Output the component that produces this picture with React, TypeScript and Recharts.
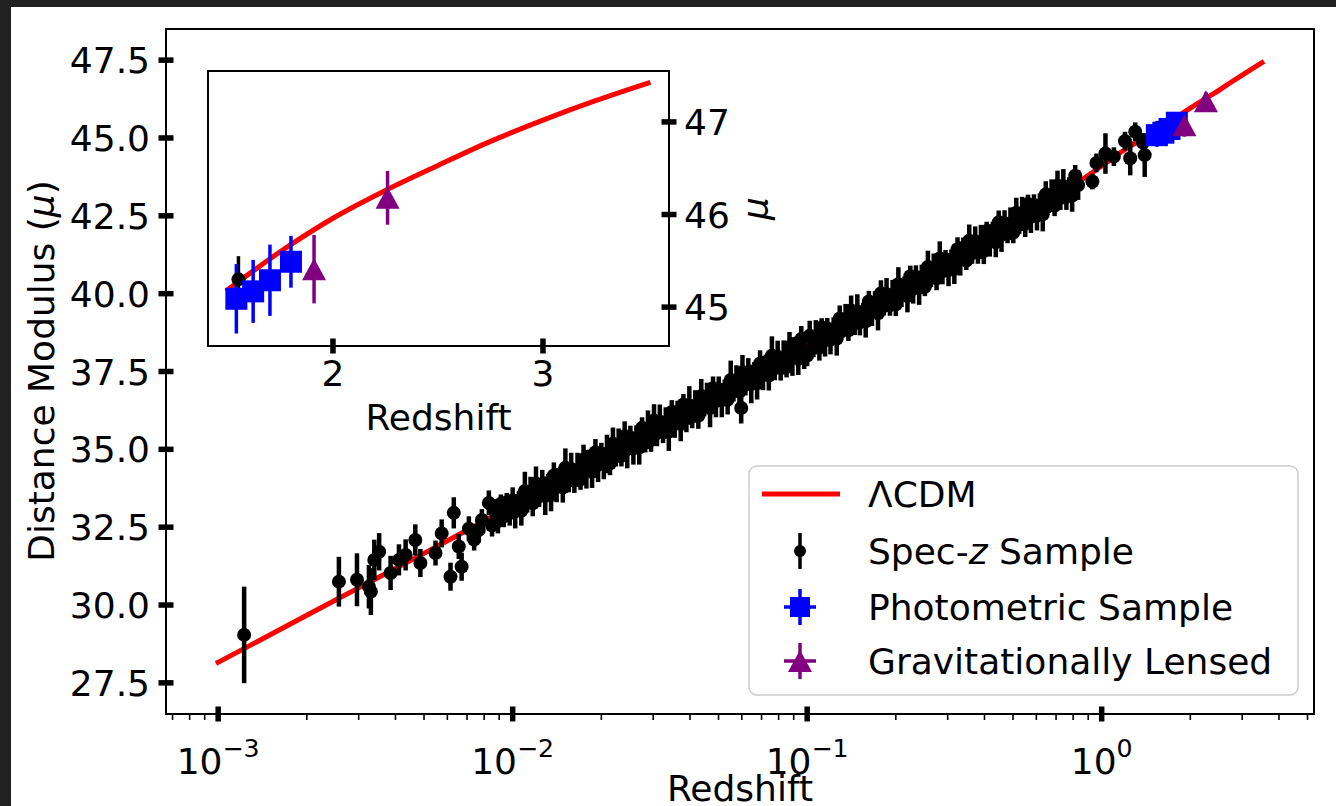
import React from 'react';
import { ComposedChart, Line, Scatter, XAxis, YAxis, ErrorBar, ReferenceArea, Label } from 'recharts';

const FONT = '"DejaVu Sans", sans-serif';
const FS = 36;

// ΛCDM model curve (redshift, distance modulus)
const curveZ = [0.001, 0.002, 0.003, 0.005, 0.007, 0.01, 0.02, 0.03, 0.05, 0.07, 0.1, 0.15, 0.2, 0.3, 0.4, 0.5, 0.6, 0.7, 0.8, 1.0, 1.2, 1.5, 1.75, 2.0, 2.25, 2.5, 2.75, 3.0, 3.25, 3.5];
const curveMu = [28.16, 29.67, 30.55, 31.66, 32.4, 33.18, 34.69, 35.59, 36.73, 37.5, 38.31, 39.25, 39.96, 40.95, 41.69, 42.26, 42.73, 43.13, 43.47, 44.1, 44.63, 45.19, 45.6, 45.96, 46.26, 46.53, 46.79, 47.02, 47.23, 47.42];

// Spec-z sample: [z, mu, err]
const specSample: number[][] = [
  [0.001225, 29.04, 1.55], [0.00257, 30.75, 0.8], [0.00296, 30.81, 0.85], [0.00325, 30.59, 0.7], [0.0033, 30.43, 0.75],
  [0.00339, 31.45, 0.65], [0.00352, 31.71, 0.6], [0.00385, 31.03, 0.55], [0.00411, 31.45, 0.5], [0.00433, 31.61, 0.5],
  [0.00467, 32.09, 0.5], [0.00486, 31.35, 0.45], [0.00547, 31.67, 0.4], [0.00574, 32.3, 0.45], [0.00615, 30.91, 0.45],
  [0.00631, 32.96, 0.5], [0.00656, 31.88, 0.4], [0.00671, 31.23, 0.45], [0.0071, 32.45, 0.4], [0.0074, 32.1, 0.35],
  [0.00767, 32.41, 0.4], [0.00786, 32.73, 0.35], [0.0083, 33.28, 0.4], [0.00851, 32.55, 0.35], [0.00871, 33.1, 0.3],
  [0.00891, 32.7, 0.4], [0.00912, 33.25, 0.3], [0.00933, 32.85, 0.35], [0.00955, 33.3, 0.3], [0.00977, 32.95, 0.4],
  [0.01, 33.36, 0.42], [0.0102, 33.01, 0.55], [0.0105, 33.33, 0.34], [0.0107, 33.03, 0.48], [0.011, 33.66, 0.62],
  [0.0112, 33.35, 0.38], [0.0115, 33.6, 0.52], [0.0117, 33.27, 0.42], [0.012, 33.9, 0.55], [0.0123, 33.49, 0.34],
  [0.0126, 33.86, 0.48], [0.0129, 33.51, 0.62], [0.0132, 33.83, 0.38], [0.0135, 33.53, 0.52], [0.0138, 34.16, 0.42],
  [0.0141, 33.85, 0.55], [0.0145, 34.1, 0.34], [0.0148, 33.77, 0.48], [0.0151, 34.41, 0.62], [0.0155, 34.0, 0.38],
  [0.0158, 34.37, 0.52], [0.0162, 34.02, 0.42], [0.0166, 34.34, 0.55], [0.017, 34.04, 0.34], [0.0174, 34.67, 0.48],
  [0.0178, 34.36, 0.62], [0.0182, 34.61, 0.38], [0.0186, 34.28, 0.52], [0.0191, 34.91, 0.42], [0.0195, 34.5, 0.55],
  [0.02, 34.87, 0.34], [0.0204, 34.52, 0.48], [0.0209, 34.85, 0.62], [0.0214, 34.55, 0.38], [0.0219, 35.18, 0.52],
  [0.0224, 34.87, 0.42], [0.0229, 35.12, 0.55], [0.0234, 34.79, 0.34], [0.024, 35.42, 0.48], [0.0245, 35.01, 0.62],
  [0.0251, 35.38, 0.38], [0.0257, 35.03, 0.52], [0.0263, 35.35, 0.42], [0.0269, 35.06, 0.55], [0.0275, 35.69, 0.34],
  [0.0282, 35.38, 0.48], [0.0288, 35.63, 0.62], [0.0295, 35.3, 0.38], [0.0302, 35.93, 0.52], [0.0309, 35.52, 0.42],
  [0.0316, 35.89, 0.55], [0.0324, 35.54, 0.34], [0.0331, 35.87, 0.48], [0.0339, 35.57, 0.62], [0.0347, 36.2, 0.38],
  [0.0355, 35.89, 0.52], [0.0363, 36.14, 0.42], [0.0372, 35.81, 0.55], [0.038, 36.44, 0.34], [0.0389, 36.03, 0.48],
  [0.0398, 36.41, 0.62], [0.0407, 36.06, 0.38], [0.0417, 36.38, 0.52], [0.0427, 36.08, 0.42], [0.0437, 36.71, 0.55],
  [0.0447, 36.4, 0.34], [0.0457, 36.66, 0.48], [0.0468, 36.33, 0.62], [0.0479, 36.96, 0.38], [0.049, 36.55, 0.52],
  [0.0501, 36.92, 0.42], [0.0513, 36.58, 0.55], [0.0525, 36.9, 0.34], [0.0537, 36.6, 0.48], [0.055, 37.23, 0.62],
  [0.0562, 36.92, 0.38], [0.0575, 37.18, 0.52], [0.0589, 36.85, 0.42], [0.0597, 36.33, 0.5], [0.0603, 37.48, 0.55],
  [0.0617, 37.07, 0.34], [0.0631, 37.45, 0.48], [0.0646, 37.1, 0.62], [0.0661, 37.42, 0.38], [0.0676, 37.12, 0.52],
  [0.0692, 37.76, 0.42], [0.0708, 37.45, 0.55], [0.0724, 37.7, 0.34], [0.0741, 37.37, 0.48], [0.0759, 38.01, 0.62],
  [0.0776, 37.6, 0.38], [0.0794, 37.97, 0.52], [0.0813, 37.63, 0.42], [0.0832, 37.95, 0.55], [0.0851, 37.65, 0.34],
  [0.0871, 38.29, 0.48], [0.0891, 37.98, 0.62], [0.0912, 38.23, 0.38], [0.0933, 37.91, 0.52], [0.0955, 38.54, 0.42],
  [0.0977, 38.13, 0.55],
  [0.1, 38.01, 0.34], [0.102, 38.65, 0.48], [0.105, 38.34, 0.38], [0.107, 38.6, 0.55], [0.11, 38.27, 0.42],
  [0.112, 38.91, 0.3], [0.115, 38.5, 0.52], [0.117, 38.88, 0.34], [0.12, 38.53, 0.48], [0.123, 38.86, 0.38],
  [0.126, 38.56, 0.55], [0.129, 39.2, 0.42], [0.132, 38.89, 0.3], [0.135, 39.15, 0.52], [0.138, 38.82, 0.34],
  [0.141, 39.46, 0.48], [0.145, 39.05, 0.38], [0.148, 39.43, 0.55], [0.151, 39.08, 0.42], [0.155, 39.41, 0.3],
  [0.158, 39.11, 0.52], [0.162, 39.75, 0.34], [0.166, 39.44, 0.48], [0.17, 39.7, 0.38], [0.174, 39.37, 0.55],
  [0.178, 40.01, 0.42], [0.182, 39.6, 0.3], [0.186, 39.98, 0.52], [0.191, 39.63, 0.34], [0.195, 39.96, 0.48],
  [0.2, 39.66, 0.38], [0.204, 40.3, 0.55], [0.209, 39.99, 0.42], [0.214, 40.25, 0.3], [0.219, 39.92, 0.52],
  [0.224, 40.56, 0.34], [0.229, 40.16, 0.48], [0.234, 40.53, 0.38], [0.24, 40.19, 0.55], [0.245, 40.51, 0.42],
  [0.251, 40.22, 0.3], [0.257, 40.86, 0.52], [0.263, 40.55, 0.34], [0.269, 40.81, 0.48], [0.275, 40.49, 0.38],
  [0.282, 41.13, 0.55], [0.288, 40.72, 0.42], [0.295, 41.1, 0.3], [0.302, 40.76, 0.52], [0.309, 41.08, 0.34],
  [0.316, 40.79, 0.48], [0.324, 41.43, 0.38], [0.331, 41.13, 0.55], [0.339, 41.38, 0.42], [0.347, 41.06, 0.3],
  [0.355, 41.7, 0.52], [0.363, 41.3, 0.34], [0.372, 41.68, 0.48], [0.38, 41.34, 0.38], [0.389, 41.66, 0.55],
  [0.398, 41.37, 0.42], [0.407, 42.01, 0.3], [0.417, 41.71, 0.52], [0.427, 41.97, 0.34], [0.437, 41.65, 0.48],
  [0.447, 42.29, 0.38], [0.457, 41.89, 0.55], [0.468, 42.26, 0.42], [0.479, 41.92, 0.3], [0.49, 42.25, 0.52],
  [0.501, 41.96, 0.34], [0.513, 42.6, 0.48], [0.525, 42.3, 0.38], [0.537, 42.56, 0.55], [0.55, 42.24, 0.42],
  [0.562, 42.88, 0.3], [0.575, 42.47, 0.52], [0.589, 42.85, 0.34], [0.603, 42.51, 0.48], [0.617, 42.84, 0.38],
  [0.631, 42.55, 0.55], [0.646, 43.19, 0.42], [0.661, 42.89, 0.3], [0.676, 43.15, 0.52], [0.692, 42.83, 0.34],
  [0.708, 43.47, 0.48], [0.724, 43.07, 0.38], [0.741, 43.45, 0.55], [0.759, 43.11, 0.42], [0.776, 43.44, 0.3],
  [0.794, 43.15, 0.52], [0.813, 43.79, 0.34], [0.832, 43.49, 0.48],
  [0.93, 43.6, 0.25], [0.96, 44.2, 0.3], [1.03, 44.5, 0.65], [1.1, 44.4, 0.3], [1.2, 44.9, 0.3],
  [1.25, 44.35, 0.55], [1.3, 45.2, 0.3], [1.38, 44.85, 0.3], [1.4, 44.45, 0.7], [1.55, 45.3, 0.25],
];

// Photometric sample
const photoZ = [1.54, 1.62, 1.7, 1.8];
const photoMu = [45.09, 45.17, 45.29, 45.49];
const photoErr = [0.375, 0.34, 0.385, 0.28];

// Gravitationally lensed
const lensZ = [1.91, 2.26];
const lensMu = [45.41, 46.18];
const lensErr = [0.37, 0.29];

// Axes ticks
const mainXMajor = [0.001, 0.01, 0.1, 1];
const mainXMinor = [0.0007, 0.0008, 0.0009, 0.002, 0.003, 0.004, 0.005, 0.006, 0.007, 0.008, 0.009, 0.02, 0.03, 0.04, 0.05, 0.06, 0.07, 0.08, 0.09, 0.2, 0.3, 0.4, 0.5, 0.6, 0.7, 0.8, 0.9, 2, 3, 4, 5];
const mainYTicks = [27.5, 30, 32.5, 35, 37.5, 40, 42.5, 45, 47.5];
const insetXTicks = [2, 3];
const insetYTicks = [45, 46, 47];

const MAIN_X_DOMAIN: [number, number] = [0.000665, 5.26];
const MAIN_Y_DOMAIN: [number, number] = [26.5, 48.5];
const INSET_X_DOMAIN: [number, number] = [1.405, 3.6];
const INSET_Y_DOMAIN: [number, number] = [44.58, 47.55];

const curveData = curveZ.map((z, i) => ({ z, mu: curveMu[i] }));
const specData = specSample.map(([z, mu, err]) => ({ z, mu, err }));
const photoData = photoZ.map((z, i) => ({ z, mu: photoMu[i], err: photoErr[i] }));
const lensData = lensZ.map((z, i) => ({ z, mu: lensMu[i], err: lensErr[i] }));
const insetCurve = curveData.filter((d) => d.z >= 1.5);
const insetSpec = specData.filter((d) => d.z >= 1.45);

const DotShape = (p: any) => <circle cx={p.cx} cy={p.cy} r={7} fill="#000" />;
const SquareShape = (p: any) => <rect x={p.cx - 11} y={p.cy - 11} width={22} height={22} fill="#0000ff" />;
const TriShape = (p: any) => (
  <polygon points={`${p.cx},${p.cy - 11} ${p.cx - 12},${p.cy + 11} ${p.cx + 12},${p.cy + 11}`} fill="#800080" />
);

const MainXTick = (p: any) => {
  const { x, y, payload } = p;
  const v = payload.value;
  const lg = Math.log10(v);
  const e = Math.round(lg);
  if (Math.abs(lg - e) > 1e-6) {
    return <line x1={x} x2={x} y1={y} y2={y + 6} stroke="#000" strokeWidth={1.6} />;
  }
  const exp = e < 0 ? `\u2212${-e}` : `${e}`;
  return (
    <g>
      <line x1={x} x2={x} y1={y - 7.5} y2={y + 7.5} stroke="#000" strokeWidth={5.5} />
      <text x={x} y={y + 60} textAnchor="middle" fontSize={FS} fontFamily={FONT} fill="#000">
        10<tspan dy={-17} fontSize={FS * 0.7}>{exp}</tspan>
      </text>
    </g>
  );
};

const MainYTick = (p: any) => {
  const { x, y, payload } = p;
  return (
    <g>
      <line x1={x - 7.5} x2={x + 7.5} y1={y} y2={y} stroke="#000" strokeWidth={5.5} />
      <text x={x - 16} y={y + 13} textAnchor="end" fontSize={FS} fontFamily={FONT} fill="#000">
        {Number(payload.value).toFixed(1)}
      </text>
    </g>
  );
};

const InsetXTick = (p: any) => {
  const { x, y, payload } = p;
  return (
    <g>
      <line x1={x} x2={x} y1={y - 7.5} y2={y + 7.5} stroke="#000" strokeWidth={5.5} />
      <text x={x} y={y + 40} textAnchor="middle" fontSize={FS} fontFamily={FONT} fill="#000">
        {payload.value}
      </text>
    </g>
  );
};

const InsetYTick = (p: any) => {
  const { x, y, payload } = p;
  return (
    <g>
      <line x1={x - 7.5} x2={x + 7.5} y1={y} y2={y} stroke="#000" strokeWidth={5.5} />
      <text x={x + 15} y={y + 13} textAnchor="start" fontSize={FS} fontFamily={FONT} fill="#000">
        {payload.value}
      </text>
    </g>
  );
};

const MainXLabel = () => (
  <text x={740} y={801} textAnchor="middle" fontSize={FS} fontFamily={FONT} fill="#000">Redshift</text>
);
const MainYLabel = () => (
  <text x={54} y={371} textAnchor="middle" fontSize={FS} fontFamily={FONT} fill="#000" transform="rotate(-90 54 371)">
    Distance Modulus (<tspan fontStyle="italic">μ</tspan>)
  </text>
);
const InsetXLabel = () => (
  <text x={438.5} y={430} textAnchor="middle" fontSize={FS} fontFamily={FONT} fill="#000">Redshift</text>
);
const InsetYLabel = () => (
  <text x={768} y={208.5} textAnchor="middle" fontSize={FS} fontFamily={FONT} fill="#000" fontStyle="italic" transform="rotate(-90 768 208.5)">
    μ
  </text>
);

const LegendBox = () => {
  const tx = 868;
  const hx = 800;
  const rows = [494, 551, 607, 661];
  const ts = { fontSize: FS, fontFamily: FONT, fill: '#000' } as any;
  return (
    <svg width={1336} height={806} style={{ position: 'absolute', left: 0, top: 0, pointerEvents: 'none' }}>
      <rect x={749} y={466} width={549} height={229} rx={8} ry={8} fill="#fff" fillOpacity={0.8} stroke="#cccccc" strokeWidth={1.5} />
      <line x1={762} x2={840} y1={rows[0]} y2={rows[0]} stroke="#ff0000" strokeWidth={5} />
      <text x={tx} y={rows[0] + 13} {...ts}>ΛCDM</text>
      <line x1={hx} x2={hx} y1={rows[1] - 18} y2={rows[1] + 18} stroke="#000" strokeWidth={3.5} />
      <circle cx={hx} cy={rows[1]} r={6} fill="#000" />
      <text x={tx} y={rows[1] + 13} {...ts}>Spec-<tspan fontStyle="italic">z</tspan> Sample</text>
      <line x1={hx} x2={hx} y1={rows[2] - 18} y2={rows[2] + 18} stroke="#0000ff" strokeWidth={3.5} />
      <line x1={hx - 16} x2={hx + 16} y1={rows[2]} y2={rows[2]} stroke="#0000ff" strokeWidth={3.5} />
      <rect x={hx - 10} y={rows[2] - 10} width={20} height={20} fill="#0000ff" />
      <text x={tx} y={rows[2] + 13} {...ts}>Photometric Sample</text>
      <line x1={hx} x2={hx} y1={rows[3] - 18} y2={rows[3] + 18} stroke="#800080" strokeWidth={3.5} />
      <line x1={hx - 16} x2={hx + 16} y1={rows[3]} y2={rows[3]} stroke="#800080" strokeWidth={3.5} />
      <polygon points={`${hx},${rows[3] - 11} ${hx - 12},${rows[3] + 11} ${hx + 12},${rows[3] + 11}`} fill="#800080" />
      <text x={tx} y={rows[3] + 13} {...ts}>Gravitationally Lensed</text>
    </svg>
  );
};

export default function App() {
  return (
    <div style={{ position: 'absolute', left: 0, top: 0, width: 1336, height: 806, background: '#212121', overflow: 'hidden', fontFamily: FONT }}>
      <div style={{ position: 'absolute', left: 11, top: 7, width: 1325, height: 799, background: '#fff' }} />
      <div style={{ position: 'absolute', left: 0, top: 0 }}>
        <ComposedChart width={1336} height={806} margin={{ top: 29, right: 22, bottom: 0, left: 0 }} style={{ overflow: 'visible' }}>
          <XAxis
            dataKey="z"
            type="number"
            scale="log"
            domain={MAIN_X_DOMAIN}
            allowDataOverflow
            ticks={[...mainXMajor, ...mainXMinor]}
            interval={0}
            tick={<MainXTick />}
            tickLine={false}
            axisLine={false}
            tickSize={0}
            tickMargin={0}
            height={92}
            label={<Label content={<MainXLabel />} />}
          />
          <YAxis
            type="number"
            domain={MAIN_Y_DOMAIN}
            allowDataOverflow
            ticks={mainYTicks}
            interval={0}
            tick={<MainYTick />}
            tickLine={false}
            axisLine={false}
            tickSize={0}
            tickMargin={0}
            width={166}
            label={<Label content={<MainYLabel />} />}
          />
          <Line data={curveData} dataKey="mu" stroke="#ff0000" strokeWidth={5} dot={false} type="monotone" strokeLinecap="square" isAnimationActive={false} />
          <Scatter data={specData} dataKey="mu" fill="#000" shape={DotShape} isAnimationActive={false}>
            <ErrorBar dataKey="err" width={0} stroke="#000" strokeWidth={4.5} direction="y" isAnimationActive={false} />
          </Scatter>
          <Scatter data={photoData} dataKey="mu" fill="#0000ff" shape={SquareShape} isAnimationActive={false}>
            <ErrorBar dataKey="err" width={0} stroke="#0000ff" strokeWidth={3.5} direction="y" isAnimationActive={false} />
          </Scatter>
          <Scatter data={lensData} dataKey="mu" fill="#800080" shape={TriShape} isAnimationActive={false}>
            <ErrorBar dataKey="err" width={0} stroke="#800080" strokeWidth={3.5} direction="y" isAnimationActive={false} />
          </Scatter>
          <ReferenceArea x1={MAIN_X_DOMAIN[0]} x2={MAIN_X_DOMAIN[1]} y1={MAIN_Y_DOMAIN[0]} y2={MAIN_Y_DOMAIN[1]} fill="none" stroke="#000" strokeWidth={2} ifOverflow="visible" />
        </ComposedChart>
      </div>
      <div style={{ position: 'absolute', left: 0, top: 0 }}>
        <ComposedChart width={800} height={450} margin={{ top: 71, right: 0, bottom: 0, left: 208 }} style={{ overflow: 'visible' }}>
          <XAxis
            dataKey="z"
            type="number"
            domain={INSET_X_DOMAIN}
            allowDataOverflow
            ticks={insetXTicks}
            interval={0}
            tick={<InsetXTick />}
            tickLine={false}
            axisLine={false}
            tickSize={0}
            tickMargin={0}
            height={104}
            label={<Label content={<InsetXLabel />} />}
          />
          <YAxis
            orientation="right"
            type="number"
            domain={INSET_Y_DOMAIN}
            allowDataOverflow
            ticks={insetYTicks}
            interval={0}
            tick={<InsetYTick />}
            tickLine={false}
            axisLine={false}
            tickSize={0}
            tickMargin={0}
            width={131}
            label={<Label content={<InsetYLabel />} />}
          />
          <Line data={insetCurve} dataKey="mu" stroke="#ff0000" strokeWidth={5} dot={false} type="monotone" strokeLinecap="square" isAnimationActive={false} />
          <Scatter data={insetSpec} dataKey="mu" fill="#000" shape={DotShape} isAnimationActive={false}>
            <ErrorBar dataKey="err" width={0} stroke="#000" strokeWidth={3.5} direction="y" isAnimationActive={false} />
          </Scatter>
          <Scatter data={photoData} dataKey="mu" fill="#0000ff" shape={SquareShape} isAnimationActive={false}>
            <ErrorBar dataKey="err" width={0} stroke="#0000ff" strokeWidth={3.5} direction="y" isAnimationActive={false} />
          </Scatter>
          <Scatter data={lensData} dataKey="mu" fill="#800080" shape={TriShape} isAnimationActive={false}>
            <ErrorBar dataKey="err" width={0} stroke="#800080" strokeWidth={3.5} direction="y" isAnimationActive={false} />
          </Scatter>
          <ReferenceArea x1={INSET_X_DOMAIN[0]} x2={INSET_X_DOMAIN[1]} y1={INSET_Y_DOMAIN[0]} y2={INSET_Y_DOMAIN[1]} fill="none" stroke="#000" strokeWidth={2} ifOverflow="visible" />
        </ComposedChart>
      </div>
      <LegendBox />
    </div>
  );
}
